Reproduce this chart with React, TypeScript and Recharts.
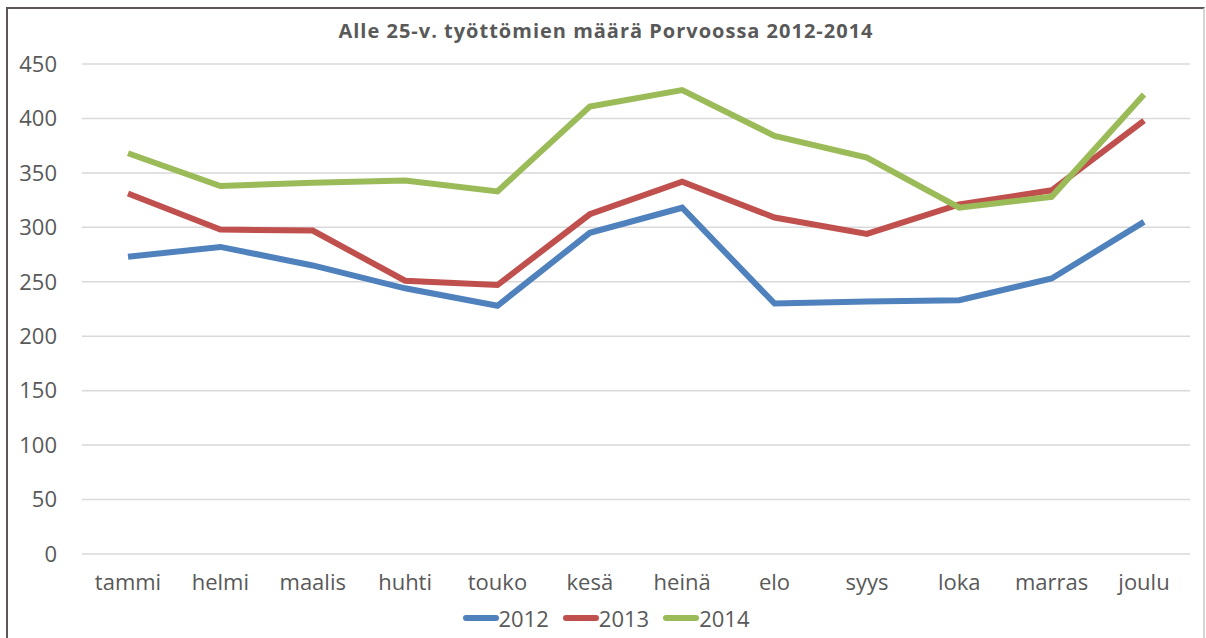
import React from 'react';
import { LineChart, Line, XAxis, YAxis, CartesianGrid, Legend } from 'recharts';

const months = ['tammi', 'helmi', 'maalis', 'huhti', 'touko', 'kesä', 'heinä', 'elo', 'syys', 'loka', 'marras', 'joulu'];
const y2012 = [273, 282, 265, 244, 228, 295, 318, 230, 232, 233, 253, 305];
const y2013 = [331, 298, 297, 251, 247, 312, 342, 309, 294, 321, 334, 398];
const y2014 = [368, 338, 341, 343, 333, 411, 426, 384, 364, 318, 328, 422];
const yTicks = [0, 50, 100, 150, 200, 250, 300, 350, 400, 450];

const data = months.map((m, i) => ({ name: m, '2012': y2012[i], '2013': y2013[i], '2014': y2014[i] }));

const FONT = '"Open Sans", sans-serif';
const TEXT = '#595959';

// legend: short thick line + year, Excel style
const LegendContent = (props: any) => {
  const { payload } = props;
  return (
    <div style={{ display: 'flex', justifyContent: 'center', fontFamily: FONT, fontSize: 22, color: TEXT, lineHeight: '28px' }}>
      {payload.map((p: any) => (
        <div key={p.value} style={{ display: 'flex', alignItems: 'center', margin: '0 7px' }}>
          <span style={{ display: 'inline-block', width: 36, height: 6, borderRadius: 3, background: p.color }} />
          <span>{p.value}</span>
        </div>
      ))}
    </div>
  );
};

export default function App() {
  return (
    <div style={{ position: 'absolute', left: 0, top: 0, width: 1206, height: 638, background: '#fff', overflow: 'hidden' }}>
      <div style={{ position: 'absolute', left: 6, top: 7, width: 1199, height: 640, borderLeft: '2px solid #5e5656', borderTop: '2px solid #5e5656', borderRight: '2px solid #d6d6d6', boxSizing: 'border-box' }} />
      <div style={{ position: 'absolute', left: 0, top: 17, width: 1212, textAlign: 'center', fontFamily: FONT, fontWeight: 700, fontSize: 20, letterSpacing: 1, color: TEXT }}>
        Alle 25-v. työttömien määrä Porvoossa 2012-2014
      </div>
      <LineChart width={1206} height={638} data={data} margin={{ top: 64, right: 16, bottom: 26, left: 22 }}>
        <CartesianGrid vertical={false} stroke="#d9d9d9" strokeWidth={1.5} />
        <XAxis dataKey="name" axisLine={false} tickLine={false} tickMargin={14} padding={{ left: 46, right: 46 }}
          tick={{ fontFamily: FONT, fontSize: 22, fill: TEXT }} interval={0} />
        <YAxis width={60} domain={[0, 450]} ticks={yTicks} axisLine={false} tickLine={false} tickMargin={19}
          tick={{ fontFamily: FONT, fontSize: 22, fill: TEXT }} />
        <Legend verticalAlign="bottom" content={<LegendContent />} wrapperStyle={{ bottom: 6 }} />
        <Line dataKey="2012" stroke="#4f81bd" strokeWidth={6} dot={false} isAnimationActive={false} />
        <Line dataKey="2013" stroke="#c0504d" strokeWidth={6} dot={false} isAnimationActive={false} />
        <Line dataKey="2014" stroke="#9bbb59" strokeWidth={6} dot={false} isAnimationActive={false} />
      </LineChart>
    </div>
  );
}
